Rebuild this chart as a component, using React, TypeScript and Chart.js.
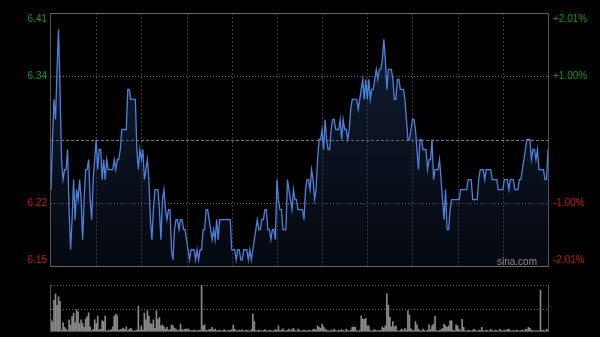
import React, { useEffect, useRef } from 'react';
import { Chart, registerables } from 'chart.js';

Chart.register(...registerables);

// ---- data ----
const prevClose = 6.28;
const pctRange = 0.0201;
const tickFractions = [1, 0.5, -0.5, -1];
const priceTickLabels = ['6.41', '6.34', '6.22', '6.15'];
const pctTickLabels = ['+2.01%', '+1.00%', '-1.00%', '-2.01%'];
const gridMinutes = [30, 60, 90, 120, 150, 180, 210, 240, 270, 300];
const watermark = 'sina.com';

const prices = [
  6.23, 6.28, 6.32, 6.30, 6.35, 6.39, 6.33, 6.26, 6.24, 6.25,
  6.25, 6.27, 6.21, 6.17, 6.20, 6.24, 6.20, 6.23, 6.22, 6.24,
  6.22, 6.18, 6.22, 6.25, 6.25, 6.26, 6.22, 6.20, 6.24, 6.26,
  6.28, 6.25, 6.27, 6.27, 6.24, 6.26, 6.24, 6.26, 6.25, 6.25,
  6.25, 6.25, 6.26, 6.25, 6.26, 6.26, 6.27, 6.29, 6.29, 6.29,
  6.29, 6.33, 6.33, 6.32, 6.32, 6.32, 6.32, 6.27, 6.25, 6.27,
  6.26, 6.27, 6.24, 6.25, 6.26, 6.24, 6.20, 6.18, 6.21, 6.23,
  6.23, 6.23, 6.21, 6.18, 6.22, 6.23, 6.21, 6.20, 6.21, 6.21,
  6.17, 6.16, 6.19, 6.20, 6.20, 6.19, 6.20, 6.20, 6.19, 6.19,
  6.18, 6.17, 6.16, 6.17, 6.17, 6.17, 6.16, 6.17, 6.16, 6.17,
  6.17, 6.19, 6.19, 6.21, 6.21, 6.20, 6.19, 6.18, 6.19, 6.18,
  6.20, 6.18, 6.20, 6.20, 6.20, 6.20, 6.20, 6.20, 6.20, 6.20,
  6.17, 6.17, 6.17, 6.16, 6.17, 6.17, 6.16, 6.16, 6.17, 6.17,
  6.17, 6.16, 6.17, 6.16, 6.17, 6.18, 6.19, 6.20, 6.19, 6.19,
  6.20, 6.20, 6.21, 6.21, 6.19, 6.19, 6.18, 6.19, 6.19, 6.18,
  6.24, 6.22, 6.21, 6.21, 6.19, 6.19, 6.19, 6.24, 6.23, 6.22,
  6.21, 6.23, 6.22, 6.22, 6.21, 6.21, 6.21, 6.21, 6.20, 6.23,
  6.24, 6.24, 6.23, 6.25, 6.24, 6.22, 6.23, 6.26, 6.28, 6.28,
  6.29, 6.27, 6.30, 6.28, 6.27, 6.27, 6.29, 6.30, 6.30, 6.29,
  6.29, 6.29, 6.30, 6.28, 6.30, 6.29, 6.29, 6.28, 6.29, 6.31,
  6.32, 6.32, 6.32, 6.32, 6.31, 6.32, 6.33, 6.34, 6.32, 6.34,
  6.32, 6.34, 6.32, 6.33, 6.33, 6.34, 6.35, 6.34, 6.35, 6.35,
  6.36, 6.38, 6.36, 6.33, 6.35, 6.35, 6.35, 6.34, 6.32, 6.32,
  6.34, 6.34, 6.33, 6.33, 6.33, 6.32, 6.30, 6.28, 6.28, 6.29,
  6.30, 6.30, 6.29, 6.27, 6.25, 6.28, 6.28, 6.27, 6.27, 6.27,
  6.25, 6.26, 6.26, 6.28, 6.24, 6.25, 6.25, 6.25, 6.26, 6.24,
  6.22, 6.20, 6.23, 6.19, 6.19, 6.21, 6.22, 6.22, 6.22, 6.22,
  6.22, 6.22, 6.23, 6.23, 6.23, 6.23, 6.23, 6.24, 6.24, 6.24,
  6.22, 6.22, 6.22, 6.22, 6.24, 6.25, 6.25, 6.25, 6.24, 6.25,
  6.25, 6.25, 6.25, 6.24, 6.24, 6.24, 6.24, 6.23, 6.23, 6.23,
  6.23, 6.24, 6.24, 6.24, 6.23, 6.24, 6.24, 6.24, 6.23, 6.23,
  6.23, 6.24, 6.24, 6.25, 6.26, 6.27, 6.28, 6.28, 6.28, 6.26,
  6.27, 6.27, 6.26, 6.27, 6.25, 6.25, 6.25, 6.25, 6.24, 6.24,
  6.27,
];

const volumes = [
  26, 22, 68, 81, 57, 75, 65, 4, 20, 10,
  6, 3, 26, 15, 33, 40, 20, 47, 43, 18,
  26, 18, 10, 27, 33, 41, 11, 3, 5, 26,
  18, 34, 4, 6, 24, 22, 34, 2, 4, 3,
  5, 11, 33, 38, 35, 4, 5, 6, 8, 5,
  11, 3, 6, 8, 4, 2, 3, 4, 55, 4,
  13, 4, 40, 26, 45, 34, 18, 17, 26, 8,
  45, 27, 31, 13, 15, 11, 6, 10, 4, 5,
  15, 13, 8, 6, 3, 4, 17, 5, 4, 6,
  6, 7, 4, 3, 3, 4, 3, 2, 4, 3,
  100, 13, 15, 4, 3, 5, 6, 10, 4, 6,
  3, 3, 4, 2, 3, 5, 3, 2, 4, 3,
  5, 15, 6, 3, 2, 4, 3, 5, 2, 3,
  4, 3, 2, 5, 38, 22, 3, 2, 4, 3,
  2, 3, 5, 3, 2, 4, 3, 2, 3, 5,
  4, 13, 3, 4, 7, 3, 2, 4, 6, 3,
  5, 8, 3, 2, 6, 4, 2, 3, 4, 3,
  2, 4, 3, 2, 5, 6, 4, 13, 10, 8,
  17, 11, 6, 4, 3, 2, 4, 3, 6, 3,
  2, 4, 3, 5, 3, 2, 6, 3, 2, 4,
  10, 11, 10, 3, 2, 4, 34, 27, 27, 29,
  13, 13, 3, 2, 4, 5, 3, 2, 4, 3,
  11, 8, 13, 81, 57, 31, 11, 22, 11, 13,
  3, 2, 4, 6, 3, 8, 4, 45, 36, 7,
  4, 3, 22, 15, 6, 3, 2, 6, 3, 2,
  4, 15, 5, 13, 17, 34, 3, 2, 4, 5,
  8, 17, 13, 10, 13, 24, 24, 4, 3, 15,
  13, 6, 3, 27, 10, 3, 2, 4, 3, 2,
  4, 6, 3, 2, 4, 3, 10, 3, 2, 4,
  3, 2, 6, 3, 2, 4, 3, 2, 6, 3,
  2, 4, 3, 5, 6, 3, 2, 3, 2, 4,
  3, 2, 3, 4, 2, 6, 5, 10, 8, 4,
  3, 2, 3, 2, 3, 89, 3, 4, 2, 6,
  4,
];
const volumeMax = 100;

// time labels (HK session: 09:30-12:00, 13:00-16:00)
const timeLabels: string[] = prices.map((_, i) => {
  const m = i <= 150 ? 9 * 60 + 30 + i : 13 * 60 + (i - 150);
  const h = Math.floor(m / 60);
  const mm = m % 60;
  return `${String(h).padStart(2, '0')}:${String(mm).padStart(2, '0')}`;
});

const yMin = prevClose * (1 - pctRange);
const yMax = prevClose * (1 + pctRange);
const FONT = '10px Arial, "Liberation Sans", sans-serif';

const priceDecor = {
  id: 'priceDecor',
  beforeDatasetsDraw(chart: any) {
    const { ctx, chartArea, scales } = chart;
    const { left, right, top, bottom } = chartArea;
    const x = scales.x;
    const y = scales.y;
    ctx.save();
    ctx.lineWidth = 1;
    // vertical grid
    ctx.strokeStyle = '#3c3c3c';
    ctx.setLineDash([2, 2]);
    gridMinutes.forEach((m) => {
      const px = Math.round(x.getPixelForValue(m)) + 0.5;
      ctx.beginPath();
      ctx.moveTo(px, top);
      ctx.lineTo(px, bottom);
      ctx.stroke();
    });
    // horizontal grid at half range
    [0.5, -0.5].forEach((f) => {
      const py = Math.round(y.getPixelForValue(prevClose * (1 + pctRange * f))) + 0.5;
      ctx.strokeStyle = '#6a6a6a';
      ctx.setLineDash([1, 2]);
      ctx.beginPath();
      ctx.moveTo(left, py);
      ctx.lineTo(right, py);
      ctx.stroke();
    });
    // previous close line
    const pc = Math.round(y.getPixelForValue(prevClose)) + 0.5;
    ctx.strokeStyle = '#777';
    ctx.setLineDash([3, 2]);
    ctx.beginPath();
    ctx.moveTo(left, pc);
    ctx.lineTo(right, pc);
    ctx.stroke();
    ctx.restore();
  },
  afterDraw(chart: any) {
    const { ctx, chartArea, scales } = chart;
    const { left, right, top, bottom } = chartArea;
    const y = scales.y;
    ctx.save();
    ctx.setLineDash([]);
    ctx.lineWidth = 1;
    ctx.strokeStyle = '#666';
    ctx.beginPath();
    ctx.moveTo(Math.round(left) - 0.5, Math.round(top) + 0.5);
    ctx.lineTo(Math.round(right) + 0.5, Math.round(top) + 0.5);
    ctx.moveTo(Math.round(left) - 0.5, Math.round(bottom) + 0.5);
    ctx.lineTo(Math.round(right) + 0.5, Math.round(bottom) + 0.5);
    ctx.stroke();
    ctx.strokeStyle = '#555';
    ctx.beginPath();
    ctx.moveTo(Math.round(left) - 0.5, top);
    ctx.lineTo(Math.round(left) - 0.5, bottom + 1);
    ctx.moveTo(Math.round(right) + 0.5, top);
    ctx.lineTo(Math.round(right) + 0.5, bottom + 1);
    ctx.stroke();

    ctx.font = FONT;
    ctx.textBaseline = 'middle';
    tickFractions.forEach((f, i) => {
      let py = y.getPixelForValue(prevClose * (1 + pctRange * f));
      if (i === 0) py = top + 6;
      if (i === tickFractions.length - 1) py = bottom - 6;
      ctx.fillStyle = f > 0 ? '#139a13' : '#c8160c';
      ctx.textAlign = 'right';
      ctx.fillText(priceTickLabels[i], left - 4, py);
      ctx.textAlign = 'left';
      ctx.fillText(pctTickLabels[i], right + 5, py);
    });
    ctx.fillStyle = '#8c8c8c';
    ctx.textAlign = 'right';
    ctx.textBaseline = 'alphabetic';
    ctx.font = '10px Arial, "Liberation Sans", sans-serif';
    ctx.fillText(watermark, right - 11, bottom - 1);
    ctx.restore();
  },
};

const volumeDecor = {
  id: 'volumeDecor',
  beforeDatasetsDraw(chart: any) {
    const { ctx, chartArea, scales } = chart;
    const { left, right, top, bottom } = chartArea;
    const y = scales.y;
    ctx.save();
    ctx.lineWidth = 1;
    ctx.strokeStyle = '#6a6a6a';
    ctx.setLineDash([1, 2]);
    [volumeMax, volumeMax / 2].forEach((v) => {
      const py = Math.round(y.getPixelForValue(v)) + 0.5;
      ctx.beginPath();
      ctx.moveTo(left, py);
      ctx.lineTo(right, py);
      ctx.stroke();
    });
    ctx.restore();
    void bottom;
  },
  afterDraw(chart: any) {
    const { ctx, chartArea } = chart;
    const { left, right, top, bottom } = chartArea;
    ctx.save();
    ctx.lineWidth = 1;
    ctx.strokeStyle = '#555';
    ctx.beginPath();
    ctx.moveTo(Math.round(left) - 0.5, top);
    ctx.lineTo(Math.round(left) - 0.5, bottom);
    ctx.moveTo(Math.round(right) + 0.5, top);
    ctx.lineTo(Math.round(right) + 0.5, bottom);
    ctx.moveTo(left, Math.round(bottom) - 0.5);
    ctx.lineTo(right, Math.round(bottom) - 0.5);
    ctx.stroke();
    ctx.restore();
  },
};

export default function App() {
  const priceRef = useRef<HTMLCanvasElement | null>(null);
  const volRef = useRef<HTMLCanvasElement | null>(null);

  useEffect(() => {
    document.body.style.background = '#000';
    const priceChart = new Chart(priceRef.current as HTMLCanvasElement, {
      type: 'line',
      data: {
        labels: timeLabels,
        datasets: [
          {
            data: prices,
            borderColor: '#4c82dc',
            borderWidth: 1.3,
            pointRadius: 0,
            tension: 0,
            fill: 'start',
            backgroundColor: (c: any) => {
              const { ctx, chartArea } = c.chart;
              if (!chartArea) return 'rgba(30,55,100,0.3)';
              const g = ctx.createLinearGradient(0, chartArea.top, 0, chartArea.bottom);
              g.addColorStop(0, 'rgba(45,75,130,0.42)');
              g.addColorStop(1, 'rgba(30,50,90,0.18)');
              return g;
            },
          },
        ],
      },
      options: {
        animation: false,
        responsive: false,
        devicePixelRatio: 1,
        layout: { padding: { left: 51, right: 52, top: 13, bottom: 4 } },
        plugins: { legend: { display: false }, tooltip: { enabled: false } },
        scales: {
          x: { type: 'category', display: false, offset: false },
          y: { display: false, min: yMin, max: yMax },
        },
      },
      plugins: [priceDecor],
    } as any);

    const volChart = new Chart(volRef.current as HTMLCanvasElement, {
      type: 'bar',
      data: {
        labels: timeLabels,
        datasets: [
          {
            data: volumes,
            backgroundColor: '#8a8a8a',
            barThickness: 1,
          },
        ],
      },
      options: {
        animation: false,
        responsive: false,
        devicePixelRatio: 1,
        layout: { padding: { left: 51, right: 52, top: 15, bottom: 5 } },
        plugins: { legend: { display: false }, tooltip: { enabled: false } },
        scales: {
          x: { type: 'category', display: false, offset: false },
          y: { display: false, min: 0, max: volumeMax },
        },
      },
      plugins: [volumeDecor],
    } as any);

    return () => {
      priceChart.destroy();
      volChart.destroy();
    };
  }, []);

  return (
    <div style={{ position: 'fixed', left: 0, top: 0, width: 600, height: 337, background: '#000', overflow: 'hidden' }}>
      <canvas ref={priceRef} width={600} height={270} style={{ position: 'absolute', left: 0, top: 0, width: 600, height: 270 }} />
      <canvas ref={volRef} width={600} height={67} style={{ position: 'absolute', left: 0, top: 270, width: 600, height: 67 }} />
    </div>
  );
}
